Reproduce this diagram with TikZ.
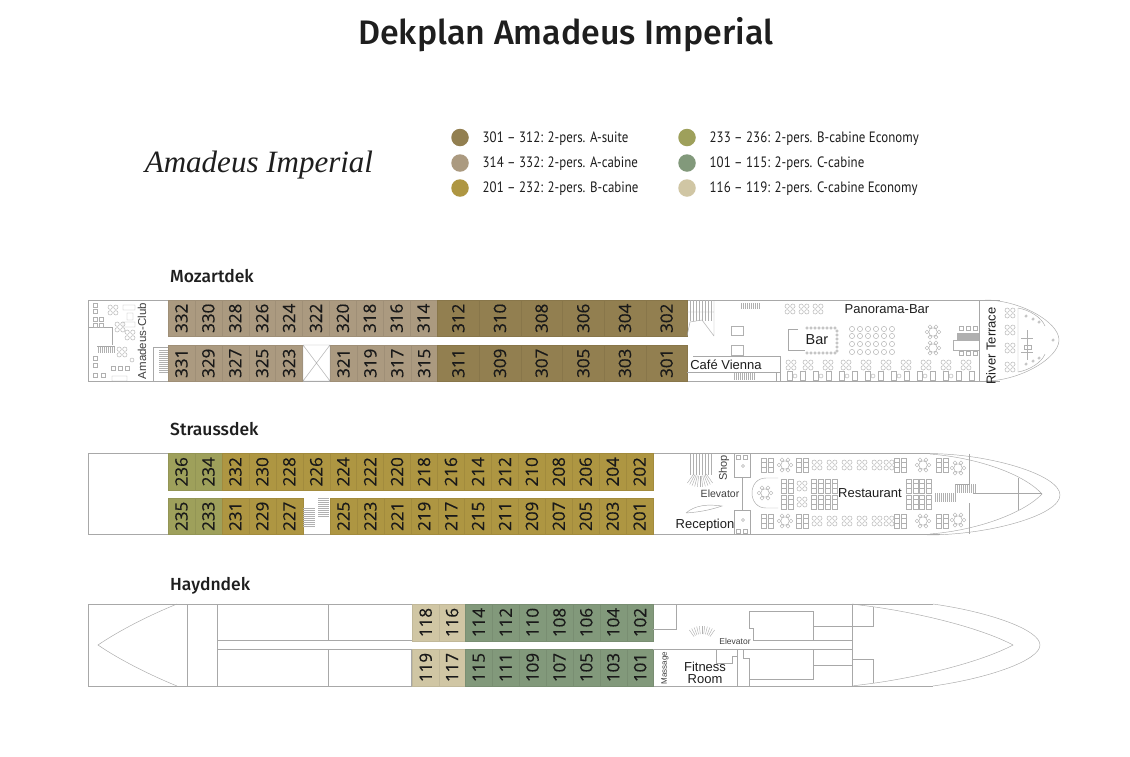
\documentclass[tikz,border=0pt]{standalone}
\usepackage{fontspec}
\usetikzlibrary{positioning}
\setmainfont{Liberation Sans}
\newfontfamily\headfont{Fira Sans Medium}
\newfontfamily\legendfont{PT Sans}
\newfontfamily\logofont{Liberation Serif}
\newfontfamily\cabinfont[FakeBold=0.4]{Open Sans}
\definecolor{asuite}{HTML}{927F50}
\definecolor{acabine}{HTML}{AB9A80}
\definecolor{bcabine}{HTML}{AE9642}
\definecolor{beco}{HTML}{9EA05B}
\definecolor{ccabine}{HTML}{82997B}
\definecolor{ceco}{HTML}{D0C6A4}
\definecolor{planline}{HTML}{A8A8A8}
\definecolor{furnline}{HTML}{B0B0B0}
\definecolor{inktext}{HTML}{1E1E1E}
\tikzset{
  cabin/.style={rotate=90, draw=#1!93!black, fill=#1, line width=0.35pt, inner sep=0pt,
    minimum width=36.5pt, font=\cabinfont\fontsize{17}{17}\selectfont, text=black!90},
  plan/.style={draw=planline, line width=0.7pt},
  thinplan/.style={draw=planline, line width=0.45pt},
  furn/.style={draw=furnline, line width=0.45pt},
  decklabel/.style={anchor=base west, inner sep=0pt, font=\headfont\fontsize{17.5}{17.5}\selectfont, text=inktext},
  roomlabel/.style={inner sep=0pt, font=\fontsize{13}{13}\selectfont, text=inktext},
  smalllabel/.style={inner sep=0pt, font=\fontsize{10}{10}\selectfont, text=inktext!85},
  legendtext/.style={anchor=west, inner sep=0pt, font=\legendfont\fontsize{15}{15}\selectfont, text=inktext},
  legenddot/.style={circle, inner sep=0pt, minimum size=17.5pt, fill=#1},
  xtbl/.pic={\foreach \a in {45,135,225,315} \draw[furn] (\a:4) circle (2.2);},
  rndtbl/.pic={\draw[furn] (0,0) circle (4.2);
    \foreach \a in {0,60,...,300} \draw[furn] (\a:6) circle (1.9);},
  recttbl/.pic={\draw[furn] (-6,-7) rectangle (-1,7) (1,-7) rectangle (6,7) (-6,-2.5) -- (-1,-2.5) (-6,2.5) -- (-1,2.5) (1,-2.5) -- (6,-2.5) (1,2.5) -- (6,2.5);},
  sqtbl/.pic={\draw[furn] (-2.2,-2.2) rectangle (2.2,2.2);},
}
\begin{document}
\begin{tikzpicture}[x=1pt,y=-1pt]
  \useasboundingbox[fill=white] (0,0) rectangle (1130,756);

  % title and legend
  \node[inner sep=0pt, font=\headfont\fontsize{34}{34}\selectfont, text=inktext] (title) at (566,35) {Dekplan Amadeus Imperial};
  \node[inner sep=0pt, font=\logofont\itshape\fontsize{31}{31}\selectfont, text=inktext] (logo) at (259,165) {Amadeus Imperial};

  \foreach \kleur/\lx/\ly/\tekst in {
    asuite/460/137.5/301 – 312: 2-pers. A-suite,
    acabine/460/163/314 – 332: 2-pers. A-cabine,
    bcabine/460/188/201 – 232: 2-pers. B-cabine,
    beco/687/137.5/233 – 236: 2-pers. B-cabine Economy,
    ccabine/687/163/101 – 115: 2-pers. C-cabine,
    ceco/687/188/116 – 119: 2-pers. C-cabine Economy}
  {
    \node[legenddot=\kleur] (dot\kleur) at (\lx,\ly) {};
    \node[legendtext, right=22.5pt of dot\kleur.center, yshift=-1pt] (txt\kleur) {\scalebox{0.86}[1]{\tekst}};
  }

  \node[decklabel] (mozart) at (170,282) {Mozartdek};
  \node[decklabel] (strauss) at (170,435) {Straussdek};
  \node[decklabel] (haydn) at (170,590) {Haydndek};

  % deck outlines
  \draw[plan] (1000,300) -- (88,300) -- (88,381) -- (1000,381);
  \draw[plan] (930,453.5) -- (88,453.5) -- (88,534.5) -- (940,534.5);
  \draw[plan] (933,604) -- (88,604) -- (88,686) -- (933,686);

  % cabins
  \foreach \kleur/\xstart/\breed/\ymid/\lijst in {
    acabine/168/26.9/318.25/{332,330,328,326,324,322,320,318,316,314},
    acabine/168/26.9/363.25/{331,329,327,325,323},
    acabine/330/26.9/363.25/{321,319,317,315},
    asuite/437.5/41.65/318.25/{312,310,308,306,304,302},
    asuite/437.5/41.65/363.25/{311,309,307,305,303,301},
    beco/168/26.95/471.75/{236,234},
    bcabine/221.9/26.95/471.75/{232,230,228,226,224,222,220,218,216,214,212,210,208,206,204,202},
    beco/168/26.95/516.25/{235,233},
    bcabine/221.9/26.95/516.25/{231,229,227},
    bcabine/330/26.92/516.25/{225,223,221,219,217,215,211,209,207,205,203,201},
    ceco/412.5/26.4/622.5/{118,116},
    ccabine/465.3/26.9/622.5/{114,112,110,108,106,104,102},
    ceco/412.5/26.4/667.5/{119,117},
    ccabine/465.3/26.9/667.5/{115,111,109,107,105,103,101}}
  {
    \foreach \nr [count=\i from 0] in \lijst
      \node[cabin=\kleur, minimum height=\breed pt] (c\nr) at ({\xstart+\breed*(\i+0.5)},\ymid) {\nr};
  }

  % Mozartdek: club and stairs at the stern
  \node[smalllabel, rotate=90, font=\fontsize{11.5}{11.5}\selectfont] (club) at (142,341) {Amadeus-Club};
  \draw[thinplan] (89,327) -- (112,327) -- (112,345) (97,346) -- (115,346);
  \foreach \x in {98,100,...,114} \draw[furn] (\x,347) -- (\x,353);
  \draw[thinplan] (153,381) -- (153,347) -- (168,347);
  \foreach \y in {350,352,...,372} \draw[furn] (159,\y) -- (168,\y);
  \foreach \x/\y in {95/305,95/311,95/319,101/319,95/325,101/325,95/358,95/365,95/375,103/375,113/368,120/368,127/368}
    \pic at (\x,\y) {sqtbl};
  \foreach \x/\y in {113/310,120/327,122/352,130/335}
    \pic at (\x,\y) {xtbl};
  \draw[furn] (123,305) rectangle (135,310) (127,313) rectangle (133,320) (123,322) rectangle (135,327) (112,376) rectangle (127,381) (132,360) circle (2);
  \draw[thinplan] (303,345) rectangle (330,381) (303,345) -- (330,381) (330,345) -- (303,381);

  % Mozartdek: cafe
  \draw[thinplan] (714,300) -- (714,336) (687,312) -- (714,312) (687,336) -- (690,322) -- (702,320) -- (714,336);
  \foreach \x in {690,693,...,711} \draw[furn] (\x,300) -- (\x,321);
  \foreach \x in {741,743,...,759} \draw[furn] (\x,303) -- (\x,309);
  \draw[furn] (731,326) rectangle (743,335) (731,345) rectangle (743,355);
  \draw[thinplan] (693,356) -- (780,356) -- (780,381) (687,372) -- (780,372) (776,372) -- (776,381);
  \foreach \x in {734,736,...,754} \draw[furn] (\x,373) -- (\x,380);
  \node[roomlabel] (cafe) at (726,365) {Café Vienna};

  % Mozartdek: panorama bar
  \node[roomlabel] (panorama) at (887,309) {Panorama-Bar};
  \foreach \x in {790,804,818} \pic at (\x,309) {xtbl};
  \draw[thinplan] (798,329) -- (788,329) -- (788,350) -- (805,350);
  \node[roomlabel, font=\fontsize{14.5}{14.5}\selectfont] (bar) at (817,340) {Bar};
  \foreach \x in {807,811,...,836} { \draw[furn] (\x,328) circle (1.2); \draw[furn] (\x,353) circle (1.2); }
  \foreach \y in {331,335,...,351} \draw[furn] (837,\y) circle (1.2);
  \foreach \x in {852,860,868,876,884,892} \foreach \y in {329,336,344,352} \draw[furn] (\x,\y) circle (2.6);
  \foreach \y in {332,348} \pic at (933,\y) {rndtbl};
  \foreach \x in {957,958,...,979} \draw[furn] (\x,333) -- (\x,340);
  \draw[furn] (979,340) -- (953,340) -- (953,350) -- (979,350);
  \foreach \x in {961,968,975} { \pic at (\x,328) {sqtbl}; \pic at (\x,353) {sqtbl}; }
  \foreach \x in {791,808,828,846,866,886,906,926,946,966} \pic at (\x,365) {xtbl};
  \foreach \x in {787,800,813,826,839,852,865,878,891,904,917,930,943,956,969}
    \draw[furn] (\x,371) rectangle ++(5,9);
  \foreach \x in {795,821,847,873,899,925,951} \draw[furn] (\x,376) circle (2);

  % Mozartdek: river terrace and bow
  \draw[plan] (979,300) -- (979,381);
  \draw[thinplan] (985,300) .. controls (1020,300) and (1059,322) .. (1059,340) .. controls (1059,358) and (1020,381) .. (985,381);
  \node[roomlabel, rotate=90] (terrace) at (991,346) {River Terrace};
  \foreach \y in {313,330,348,367} \pic at (1010,\y) {xtbl};
  \draw[thinplan] (1018,308) .. controls (1030,310) and (1042,318) .. (1045,326)
    (1018,372) .. controls (1030,370) and (1042,362) .. (1045,354) (1018,308) -- (1018,372);
  \foreach \x/\y in {1026/316,1033/319,1039/322,1026/364,1033/361,1039/358,1053/340} \draw[furn] (\x,\y) circle (1.2);
  \draw[furn] (1024,345) rectangle (1031,349) (1027,330) -- (1027,360) (1021,338) -- (1033,338) (1021,352) -- (1033,352);

  % Straussdek: stairs at the midship
  \foreach \y in {498,500,...,516} \draw[furn] (318,\y) -- (329,\y);
  \foreach \y in {508,510,...,526} \draw[furn] (303,\y) -- (315,\y);

  % Straussdek: lobby
  \foreach \x in {690,693,...,712} \draw[furn] (\x,453.5) -- (\x,475);
  \foreach \a in {-35,-28,...,35} \draw[furn] (700,465) ++(90+\a:11) -- ++(90+\a:11);
  \draw[thinplan] (686,513) .. controls (695,505) and (708,504) .. (722,506) .. controls (710,510) and (700,512) .. (686,513);
  \node[smalllabel, rotate=90, font=\fontsize{11}{11}\selectfont] (shop) at (724,468) {Shop};
  \node[smalllabel, font=\fontsize{10.5}{10.5}\selectfont] (elevA) at (720,494) {Elevator};
  \node[roomlabel] (reception) at (705,525) {Reception};
  \draw[thinplan] (734,453.5) -- (734,477) -- (750,477) -- (750,453.5) (742,477) -- (742,510) (734,534.5) -- (734,510) -- (750,510) -- (750,534.5);
  \foreach \x/\y in {738/457,745/457,738/531,745/531} \pic at (\x,\y) {sqtbl};
  \draw[furn] (743,466) circle (1.5) (743,520) circle (1.5);

  % Straussdek: restaurant
  \node[roomlabel] (restaurant) at (870,493) {Restaurant};
  \draw[thinplan] (778,478) -- (766,478) .. controls (757,478) and (752,485) .. (752,493) .. controls (752,501) and (757,508) .. (766,508) -- (778,508);
  \pic at (765,493) {rndtbl};
  \foreach \y in {465,521} {
    \foreach \x in {767,802,900,942} \pic at (\x,\y) {recttbl};
    \foreach \x in {785,923} \pic at (\x,\y) {rndtbl};
    \foreach \x in {817,832,847,862,877,889} \pic at (\x,\y) {xtbl};
  }
  \pic at (958,468) {rndtbl};
  \pic at (958,520) {rndtbl};
  \foreach \x in {787,817,831,912,925} { \pic at (\x,486) {recttbl}; \pic at (\x,502) {recttbl}; }
  \foreach \y in {486,502} \pic at (802,\y) {xtbl};
  \foreach \x in {955,957,...,975} \draw[furn] (\x,484) -- (\x,493);
  \foreach \x in {935,937,...,955} \draw[furn] (\x,493) -- (\x,502);

  % Straussdek: bow
  \draw[thinplan] (927,453.5) .. controls (990,453.5) and (1060,475) .. (1060,495) .. controls (1060,515) and (990,535) .. (927,535);
  \draw[thinplan] (930,454) .. controls (980,458) and (1025,475) .. (1042,494) .. controls (1025,512) and (980,530) .. (930,534);
  \draw[thinplan] (969,453.5) -- (969,484) -- (955,484) (969,503) -- (969,534) (973,493) -- (1042,493) (1018,478) -- (1018,510);

  % Haydndek: stern
  \draw[thinplan] (177,604) .. controls (150,615) and (120,630) .. (98,645) .. controls (120,660) and (150,675) .. (177,686);
  \draw[thinplan] (187,604) -- (187,686) (328,604) -- (328,640) (328,649) -- (328,686);
  \draw[plan] (217,604) -- (217,686) (217,640) -- (412,640) (217,649) -- (411,649) -- (411,686);

  % Haydndek: midship
  \draw[thinplan] (653,629) -- (676,629) -- (676,604) (653,649) -- (852,649) (852,604) -- (852,686);
  \draw[thinplan] (716,649) -- (716,663) -- (732,663) -- (732,656) -- (737,656) (737,649) -- (737,686);
  \draw[thinplan] (749,628) -- (749,611) -- (813,611) -- (813,640) (749,628) -- (753,628) -- (753,640) -- (852,640) (813,626) -- (852,626);
  \draw[thinplan] (743,649) -- (743,658) -- (749,658) -- (749,686) (749,679) -- (813,679) -- (813,649) (813,665) -- (852,665);
  \foreach \a in {-35,-28,...,35} \draw[furn] (702,648) ++(-90+\a:14) -- ++(-90+\a:8);
  \node[smalllabel, font=\fontsize{8.5}{8.5}\selectfont] (elevB) at (735,641) {Elevator};
  \node[smalllabel, rotate=90, font=\fontsize{8}{8}\selectfont] (massage) at (665,668) {Massage};
  \node[roomlabel, align=center, font=\fontsize{13}{12}\selectfont] (fitness) at (705,673) {Fitness\\Room};

  % Haydndek: bow
  \draw[thinplan] (933,604) .. controls (990,612) and (1040,630) .. (1040,645) .. controls (1040,660) and (990,678) .. (933,686);
  \draw[thinplan] (852,604) -- (875,607) .. controls (930,615) and (985,630) .. (1013,645) .. controls (985,660) and (930,675) .. (875,683) -- (852,686);
  \draw[thinplan] (852,626) -- (873,626) -- (873,607) (852,659) -- (873,659) -- (873,683);
\end{tikzpicture}
\end{document}
